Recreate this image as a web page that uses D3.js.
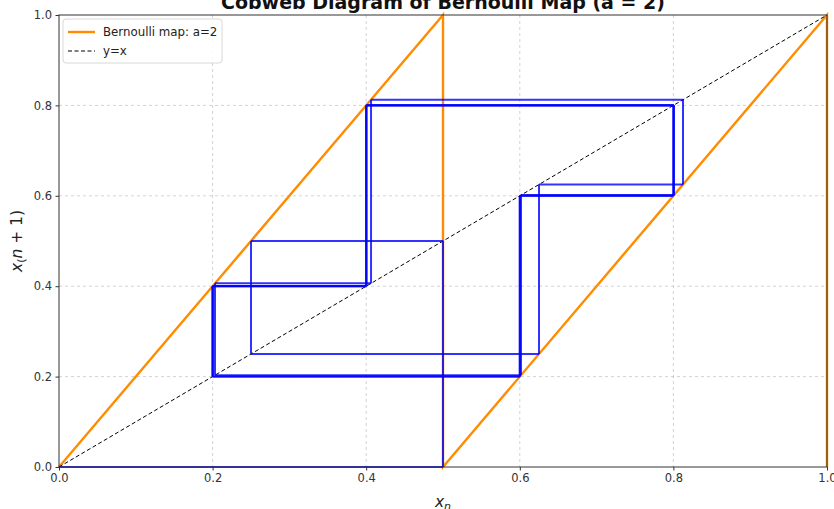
<!DOCTYPE html>
<html>
<head>
<meta charset="utf-8">
<script src="https://cdn.jsdelivr.net/npm/d3@7"></script>
<style>
  body { margin: 0; background: #fff; }
  text { font-family: "DejaVu Sans", sans-serif; }
</style>
</head>
<body>
<div id="vis"></div>
<script>
// Bernoulli map breakpoints (x, y) as plotted
const mapX = [0, 0.5, 0.5, 1, 1];
const mapY = [0, 1, 0, 1, 0];

// orbit (x0 = 0.2, float drift shows after a few loops)
const orbit = [0.2, 0.4, 0.8, 0.6, 0.2, 0.4, 0.8, 0.6,
               0.2002, 0.4004, 0.8008, 0.6016,
               0.2031, 0.4063, 0.8125, 0.625, 0.25, 0.5, 0, 0];

const ticks = [0, 0.2, 0.4, 0.6, 0.8, 1.0];
const tickLabels = ["0.0", "0.2", "0.4", "0.6", "0.8", "1.0"];

const svg = d3.select("#vis").append("svg")
    .attr("width", 834)
    .attr("height", 509);

const plotL = 59, plotR = 827, plotT = 15, plotB = 467;

const x = d3.scaleLinear().domain([0, 1]).range([plotL, plotR]);
const y = d3.scaleLinear().domain([0, 1]).range([plotB, plotT]);

// grid
const grid = svg.append("g");
ticks.slice(1, 5).forEach(t => {
    grid.append("line")
        .attr("x1", x(t)).attr("x2", x(t))
        .attr("y1", plotT).attr("y2", plotB)
        .attr("stroke", "#b0b0b0").attr("stroke-opacity", 0.7)
        .attr("stroke-width", 0.8).attr("stroke-dasharray", "3 3");
    grid.append("line")
        .attr("x1", plotL).attr("x2", plotR)
        .attr("y1", y(t)).attr("y2", y(t))
        .attr("stroke", "#b0b0b0").attr("stroke-opacity", 0.7)
        .attr("stroke-width", 0.8).attr("stroke-dasharray", "3 3");
});

const line = d3.line().x(d => x(d[0])).y(d => y(d[1]));

// the map
svg.append("path")
    .attr("d", line(mapX.map((v, i) => [v, mapY[i]])))
    .attr("fill", "none")
    .attr("stroke", "#ff8c00")
    .attr("stroke-width", 2.4);

// y = x
svg.append("path")
    .attr("d", line([[0, 0], [1, 1]]))
    .attr("fill", "none")
    .attr("stroke", "#000")
    .attr("stroke-width", 1)
    .attr("stroke-dasharray", "4 2.5");

// cobweb
const web = svg.append("g");
for (let i = 0; i < orbit.length - 1; i++) {
    const a = orbit[i], b = orbit[i + 1];
    web.append("path")
        .attr("d", line([[a, a], [a, b]]))
        .attr("fill", "none").attr("stroke", "#0000ff")
        .attr("stroke-opacity", 0.8).attr("stroke-width", 2);
    web.append("path")
        .attr("d", line([[a, b], [b, b]]))
        .attr("fill", "none").attr("stroke", "#0000ff")
        .attr("stroke-opacity", 0.8).attr("stroke-width", 2);
}

// frame
svg.append("rect")
    .attr("x", plotL).attr("y", plotT)
    .attr("width", plotR - plotL).attr("height", plotB - plotT)
    .attr("fill", "none").attr("stroke", "#333").attr("stroke-width", 1);

// axes
const xAxis = d3.axisBottom(x).tickValues(ticks)
    .tickFormat((d, i) => tickLabels[i]).tickSize(3.5).tickPadding(3.5);
const yAxis = d3.axisLeft(y).tickValues(ticks)
    .tickFormat((d, i) => tickLabels[i]).tickSize(3.5).tickPadding(3.5);

const gx = svg.append("g").attr("transform", `translate(0,${plotB})`).call(xAxis);
const gy = svg.append("g").attr("transform", `translate(${plotL},0)`).call(yAxis);
[gx, gy].forEach(g => {
    g.select(".domain").remove();
    g.selectAll("line").attr("stroke", "#333");
    g.selectAll("text")
        .attr("fill", "#333")
        .style("font-family", "DejaVu Sans")
        .style("font-size", "11.5px");
});

// title (clipped at top like the picture)
svg.append("text")
    .attr("x", (plotL + plotR) / 2)
    .attr("y", 8.5)
    .attr("text-anchor", "middle")
    .style("font-size", "19px")
    .style("font-weight", "bold")
    .attr("fill", "#111")
    .text("Cobweb Diagram of Bernoulli Map (a = 2)");

// x label
const xl = svg.append("text")
    .attr("x", (plotL + plotR) / 2)
    .attr("y", 507)
    .attr("text-anchor", "middle")
    .style("font-size", "15.5px")
    .attr("fill", "#222");
xl.append("tspan").style("font-style", "italic").text("x");
xl.append("tspan").style("font-style", "italic").style("font-size", "11px")
    .attr("dy", 3).text("n");

// y label
const yl = svg.append("text")
    .attr("transform", `translate(22,${(plotT + plotB) / 2}) rotate(-90)`)
    .attr("text-anchor", "middle")
    .style("font-size", "15.5px")
    .attr("fill", "#222");
yl.append("tspan").style("font-style", "italic").text("x");
yl.append("tspan").style("font-size", "11px").attr("dy", 3).text("(");
yl.append("tspan").attr("dy", -3).style("font-style", "italic").text("n");
yl.append("tspan").text(" + 1)");

// legend
const lg = svg.append("g").attr("transform", "translate(63,19)");
lg.append("rect")
    .attr("width", 159).attr("height", 44).attr("rx", 3)
    .attr("fill", "#fff").attr("fill-opacity", 0.85)
    .attr("stroke", "#d8d8d8").attr("stroke-width", 1);
lg.append("line")
    .attr("x1", 5).attr("x2", 32).attr("y1", 13).attr("y2", 13)
    .attr("stroke", "#ff8c00").attr("stroke-width", 2.4);
lg.append("text").attr("x", 40).attr("y", 17)
    .style("font-size", "11.8px").attr("fill", "#222")
    .text("Bernoulli map: a=2");
lg.append("line")
    .attr("x1", 5).attr("x2", 32).attr("y1", 32).attr("y2", 32)
    .attr("stroke", "#000").attr("stroke-width", 1)
    .attr("stroke-dasharray", "4 2.5");
lg.append("text").attr("x", 40).attr("y", 36)
    .style("font-size", "11.8px").attr("fill", "#222")
    .text("y=x");
</script>
</body>
</html>
